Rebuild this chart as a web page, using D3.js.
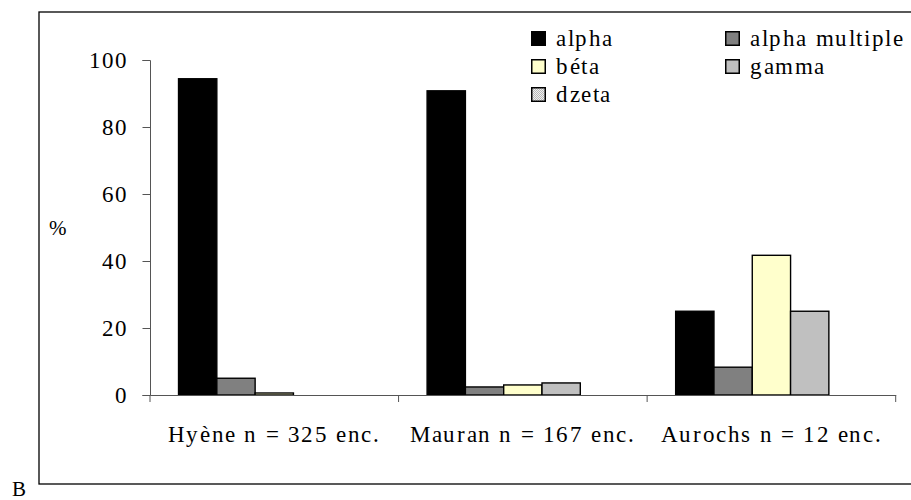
<!DOCTYPE html>
<html><head><meta charset="utf-8"><script src="https://cdn.jsdelivr.net/npm/d3@7"></script>
<style>
@font-face { font-family: "ChartSerif"; src: local("Liberation Serif"), local("LiberationSerif"), local("Times New Roman"); }
#chart text { font-family: "ChartSerif", "Liberation Serif", serif !important; }
</style>
</head>
<body style="margin:0">
<svg id="chart" width="911" height="500"></svg>
<script>
// ---- data ----
const categories = ["Hyène n = 325 enc.", "Mauran n = 167 enc.", "Aurochs n = 12 enc."];
const seriesNames = ["alpha", "alpha multiple", "béta", "gamma", "dzeta"];
const alpha         = [94.4, 90.8, 25.0];
const alphaMultiple = [5.0, 2.4, 8.3];
const beta          = [0.6, 3.0, 41.7];
const gamma         = [0, 3.6, 25.0];
const dzeta         = [0, 0, 0];
const yTicks = [0, 20, 40, 60, 80, 100];
const seriesValues = [alpha, alphaMultiple, beta, gamma, dzeta];
const seriesColors = ["#000000", "#808080", "#FFFFCC", "#C0C0C0", "url(#dzetaPattern)"];

const FONT = '"ChartSerif", "Liberation Serif", serif';
const svg = d3.select("#chart");

// pattern for dzeta
const defs = svg.append("defs");
const pat = defs.append("pattern").attr("id", "dzetaPattern")
  .attr("width", 2).attr("height", 2).attr("patternUnits", "userSpaceOnUse");
pat.append("rect").attr("width", 2).attr("height", 2).attr("fill", "#F0F0F0");
pat.append("rect").attr("width", 1).attr("height", 1).attr("fill", "#B8B8B8");
pat.append("rect").attr("x", 1).attr("y", 1).attr("width", 1).attr("height", 1).attr("fill", "#B8B8B8");

// frame
svg.append("rect").attr("x", 39).attr("y", 12).attr("width", 900).attr("height", 472)
  .attr("fill", "none").attr("stroke", "#000").attr("stroke-width", 1.3);

// scales
const x0 = d3.scaleBand().domain(categories).range([150, 895.7]).padding(0);
const x1 = d3.scaleBand().domain(seriesNames).range([0, x0.bandwidth()])
  .paddingInner(0).paddingOuter(0.745);
const y = d3.scaleLinear().domain([0, 100]).range([395, 60]);

// bars
const groups = svg.append("g").selectAll("g").data(categories).join("g")
  .attr("transform", d => `translate(${x0(d)},0)`);
groups.selectAll("rect")
  .data((c, ci) => seriesNames.map((s, si) => ({ s, si, v: seriesValues[si][ci] })).filter(d => d.v > 0))
  .join("rect")
  .attr("x", d => x1(d.s))
  .attr("width", x1.bandwidth())
  .attr("y", d => y(d.v))
  .attr("height", d => y(0) - y(d.v))
  .attr("fill", d => seriesColors[d.si])
  .attr("stroke", "#000")
  .attr("stroke-width", 1.4);

// y axis
const yAxis = svg.append("g").attr("transform", "translate(150,0)")
  .call(d3.axisLeft(y).tickValues(yTicks).tickSize(7.5).tickFormat(""));
yAxis.select(".domain").attr("stroke", "#555").attr("stroke-width", 1);
yAxis.selectAll(".tick line").attr("stroke", "#555");
yAxis.selectAll(".tick text").remove();
svg.selectAll("text.ytl").data(yTicks).join("text").attr("class", "ytl")
  .attr("x", 128).attr("y", d => y(d) + 8)
  .attr("text-anchor", "end")
  .attr("font-family", FONT).style("font-family", FONT)
  .attr("font-size", 23).attr("letter-spacing", 1)
  .text(d => d);

// x axis
const xAxis = svg.append("g").attr("transform", `translate(0,${y(0)})`)
  .call(d3.axisBottom(x0).tickSize(0).tickFormat(""));
xAxis.select(".domain").attr("stroke", "#555").attr("stroke-width", 1);
xAxis.selectAll(".tick").remove();
const bounds = categories.map(c => x0(c)).concat([x0.range()[1]]);
xAxis.selectAll("line.bt").data(bounds).join("line").attr("class", "bt")
  .attr("x1", d => d).attr("x2", d => d).attr("y1", 0).attr("y2", 7)
  .attr("stroke", "#555").attr("stroke-width", 1);

// category labels
svg.selectAll("text.cat").data(categories).join("text").attr("class", "cat")
  .attr("x", d => x0(d) + x0.bandwidth() / 2)
  .attr("y", 442)
  .attr("text-anchor", "middle")
  .attr("font-family", FONT).style("font-family", FONT)
  .attr("font-size", 23)
  .attr("letter-spacing", 1.6)
  .text(d => d);

// y label
svg.append("text").attr("x", 49).attr("y", 235)
  .attr("font-family", FONT).style("font-family", FONT).attr("font-size", 21).text("%");

// B
svg.append("text").attr("x", 12).attr("y", 496)
  .attr("font-family", FONT).style("font-family", FONT).attr("font-size", 21).text("B");

// legend
const legendPos = [
  { col: 0, row: 0 }, { col: 1, row: 0 }, { col: 0, row: 1 }, { col: 1, row: 1 }, { col: 0, row: 2 }
];
const colX = [531, 725];
svg.selectAll("rect.sw").data(seriesNames).join("rect").attr("class", "sw")
  .attr("x", (d, i) => colX[legendPos[i].col] + 0.75)
  .attr("y", (d, i) => 31 + legendPos[i].row * 28 + 0.75)
  .attr("width", 13.5).attr("height", 13.5)
  .attr("fill", (d, i) => seriesColors[i]).attr("stroke", "#000").attr("stroke-width", 1.5);
svg.selectAll("text.lg").data(seriesNames).join("text").attr("class", "lg")
  .attr("x", (d, i) => colX[legendPos[i].col] + 25)
  .attr("y", (d, i) => 31 + legendPos[i].row * 28 + 15)
  .attr("font-family", FONT).style("font-family", FONT)
  .attr("font-size", 23).attr("letter-spacing", 1.6)
  .text(d => d);
</script>
</body>
</html>
